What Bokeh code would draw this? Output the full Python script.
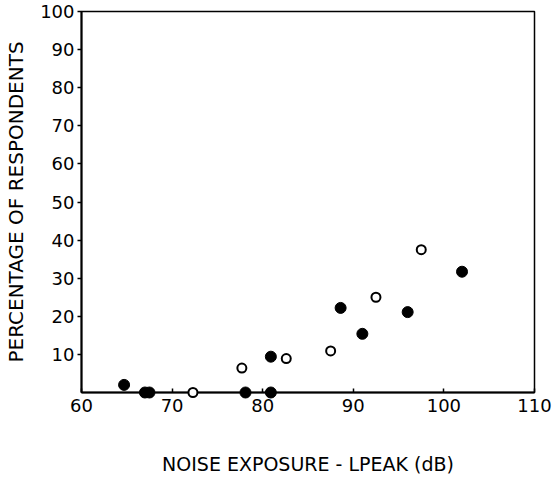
from bokeh.plotting import figure
from bokeh.models import FixedTicker, Range1d
from bokeh.embed import file_html
from bokeh.resources import INLINE

# Filled circles
filled_x = [64.7, 67.0, 67.5, 78.1, 80.9, 80.9, 88.6, 91.0, 96.0, 102.0]
filled_y = [2.0, 0.0, 0.0, 0.0, 0.0, 9.4, 22.2, 15.4, 21.1, 31.7]
# Open circles
open_x = [72.3, 77.7, 82.6, 87.5, 92.5, 97.5]
open_y = [0.0, 6.4, 8.9, 10.9, 25.0, 37.5]

x_ticks = [60, 70, 80, 90, 100, 110]
y_ticks = [10, 20, 30, 40, 50, 60, 70, 80, 90, 100]

FONT = "DejaVu Sans"

p = figure(width=552, height=477, output_backend="svg", toolbar_location=None,
           x_range=Range1d(60, 110), y_range=Range1d(0, 100),
           min_border_left=81, min_border_right=18, min_border_top=11, min_border_bottom=84)
p.xgrid.visible = False
p.ygrid.visible = False
p.outline_line_color = "black"
p.outline_line_width = 1.5
p.background_fill_color = "white"
p.border_fill_color = "white"

p.xaxis.ticker = FixedTicker(ticks=x_ticks)
p.yaxis.ticker = FixedTicker(ticks=y_ticks)
p.xaxis.minor_tick_line_color = None
p.yaxis.minor_tick_line_color = None
p.xaxis.major_tick_in = 4
p.xaxis.major_tick_out = 0
p.yaxis.major_tick_in = 0
p.yaxis.major_tick_out = 4
for ax in (p.xaxis, p.yaxis):
    ax.axis_line_width = 2
    ax.axis_line_color = "black"
    ax.major_tick_line_width = 1.5
    ax.major_label_text_font = FONT
    ax.major_label_text_font_size = "18px"
    ax.major_label_text_color = "black"
    ax.axis_label_text_font = FONT
    ax.axis_label_text_font_style = "normal"
    ax.axis_label_text_color = "black"
p.xaxis.axis_label_text_font_size = "19px"
p.yaxis.axis_label_text_font_size = "20px"
p.xaxis.axis_label = "NOISE EXPOSURE - LPEAK (dB)"
p.yaxis.axis_label = "PERCENTAGE OF RESPONDENTS"
p.xaxis.axis_label_standoff = 38
p.yaxis.axis_label_standoff = 9
p.xaxis.major_label_standoff = 6
p.yaxis.major_label_standoff = 3

p.scatter(filled_x, filled_y, size=11, fill_color="black", line_color="black", level="overlay")
p.scatter(open_x, open_y, size=9, fill_color="white", line_color="black", line_width=2, level="overlay")

open("out.html", "w").write(file_html(p, INLINE))
